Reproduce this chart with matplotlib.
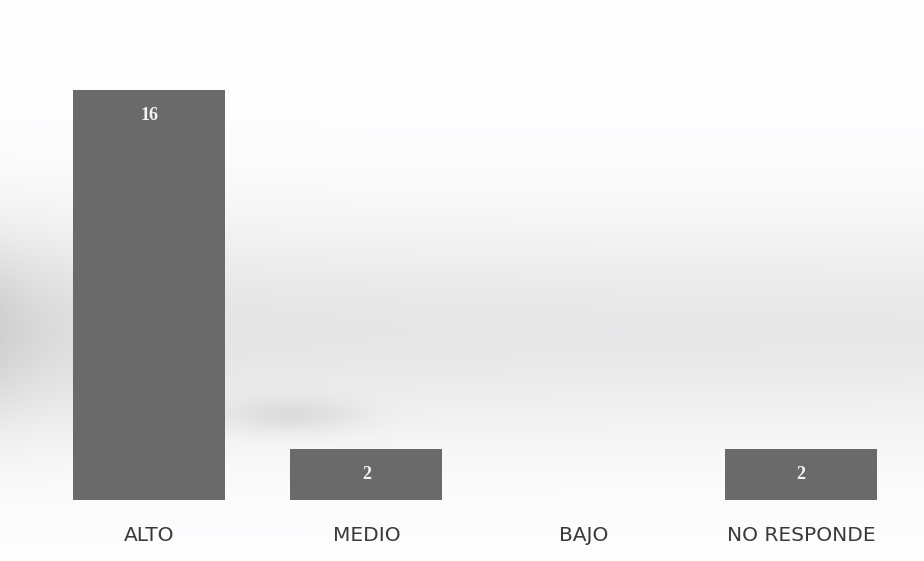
import numpy as np
import matplotlib
matplotlib.use("Agg")
import matplotlib.pyplot as plt

categories = ["ALTO", "MEDIO", "BAJO", "NO RESPONDE"]
values = [16, 2, 0, 2]
bar_labels = ["16", "2", "", "2"]

W, H = 924, 561
fig = plt.figure(figsize=(W / 100, H / 100), dpi=100)

# soft grey background shading
bg = fig.add_axes([0, 0, 1, 1], zorder=0)
yy = np.arange(H)[:, None].astype(float)
xx = np.arange(W)[None, :].astype(float)
def bump(y, c, w):
    return np.exp(-((y - c) / w) ** 2)
shade = 0.11 * bump(yy, 330, 110) * (0.75 + 0.25 * np.exp(-xx / 300.0))
shade += 0.07 * bump(yy, 330, 90) * np.exp(-xx / 60.0)
shade += 0.08 * bump(yy, 415, 18) * bump(xx, 290, 70)
gray = 1.0 - shade
img = np.dstack([gray * 0.995, gray * 0.995, gray * 1.0])
bg.imshow(np.clip(img, 0, 1), aspect="auto", extent=[0, W, H, 0])
bg.set_axis_off()

left = 40.5 / W
right = 909.5 / W
bottom_px = 500
top_px = 40
ax = fig.add_axes([left, (H - bottom_px) / H, right - left, (bottom_px - top_px) / H], zorder=1)
ax.patch.set_alpha(0)

x = np.arange(len(categories))
bars = ax.bar(x, values, width=0.70, color="#6a6a6a", linewidth=0)
ax.set_xlim(-0.5, len(categories) - 0.5)
ax.set_ylim(0, 16 * (bottom_px - top_px) / 410)

for rect, lab in zip(bars, bar_labels):
    if lab:
        ax.annotate(lab, (rect.get_x() + rect.get_width() / 2, rect.get_height()),
                    xytext=(0, -26), textcoords="offset pixels",
                    ha="center", va="center", color="#f4f4f4",
                    fontsize=13, fontweight="bold",
                    family=["Liberation Serif", "DejaVu Serif"])

ax.set_xticks(x)
ax.set_xticklabels(categories, fontsize=14.5, color="#3a3a3a",
                   family=["DejaVu Sans"])
ax.tick_params(axis="x", length=0, pad=19)
ax.set_yticks([])
for s in ax.spines.values():
    s.set_visible(False)

fig.savefig("out.png", dpi=100)
